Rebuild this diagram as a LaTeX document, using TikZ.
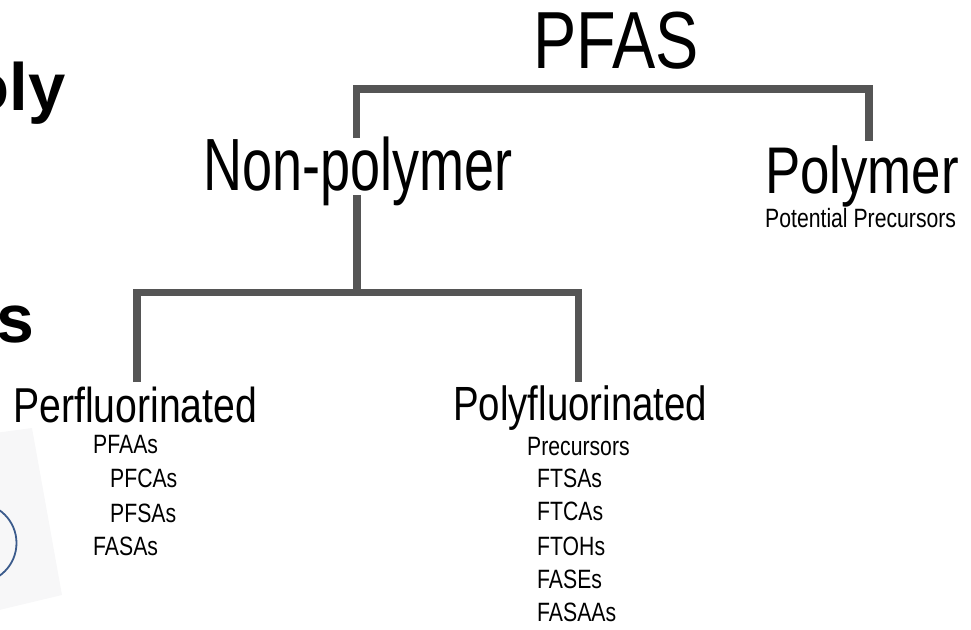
\documentclass[tikz,border=0pt]{standalone}
\usepackage{fontspec}
\setmainfont{Liberation Sans}
\newfontfamily\nar[FakeStretch=0.8]{Liberation Sans}
\newfontfamily\narr[FakeStretch=0.73]{Liberation Sans}
\definecolor{barc}{HTML}{555555}
\definecolor{cardc}{HTML}{F7F7F8}
\definecolor{ringc}{HTML}{3B5B8C}
\begin{document}
\begin{tikzpicture}[x=1pt,y=-1pt,
  lbl/.style={inner sep=0pt,anchor=base west,text=black},
  big/.style={lbl,font=\nar\fontsize{#1}{#1}\selectfont},
  bigN/.style={lbl,font=\narr\fontsize{#1}{#1}\selectfont},
  bar/.style={draw=barc,line width=7.5pt,line cap=butt,line join=miter}]
\useasboundingbox (0,0) rectangle (971,629);
\clip (0,0) rectangle (971,629);
% slide fragment on the left
\fill[cardc] (-5,433) -- (32,428) -- (62,595) -- (-5,611) -- cycle;
\draw[ringc,line width=1.8pt] (-23.5,543) circle[radius=40pt];
\node[inner sep=0pt,anchor=base east,font=\bfseries\fontsize{67}{67}\selectfont] (t1) at (66,110) {oly};
\node[inner sep=0pt,anchor=base east,font=\bfseries\fontsize{68}{68}\selectfont] (t2) at (35,342) {s};
% tree labels
\node[big=81] (pfas) at (533,68) {PFAS};
\node[bigN=74] (np) at (203,190) {Non-polymer};
\node[big=66] (poly) at (765,193) {Polymer};
\node[big=26.5] (pp) at (765,227) {Potential Precursors};
\node[big=49] (perf) at (13,422) {Perfluorinated};
\node[big=48] (polf) at (453,420) {Polyfluorinated};
\node[big=26.5] (a1) at (93,453) {PFAAs};
\node[big=26.5] (a2) at (110,487) {PFCAs};
\node[big=26.5] (a3) at (110,522) {PFSAs};
\node[big=26.5] (a4) at (93,555) {FASAs};
\node[big=26.5] (b0) at (527,455) {Precursors};
\node[big=26.5] (b1) at (537,487) {FTSAs};
\node[big=26.5] (b2) at (537,520) {FTCAs};
\node[big=26.5] (b3) at (537,555) {FTOHs};
\node[big=26.5] (b4) at (537,588) {FASEs};
\node[big=26.5] (b5) at (537,621) {FASAAs};
% connectors
\coordinate (j1l) at (356.5,138);
\coordinate (j1r) at (869,141);
\coordinate (j1y) at (0,89);
\draw[bar] (j1l) -- (j1l |- j1y) -- (j1r |- j1y) -- (j1r);
\coordinate (s1) at (357,195);
\coordinate (j2y) at (0,292.5);
\coordinate (j2l) at (137,382);
\coordinate (j2r) at (578.5,382);
\draw[bar] (s1) -- (s1 |- j2y);
\draw[bar] (j2l) -- (j2l |- j2y) -- (j2r |- j2y) -- (j2r);
\end{tikzpicture}
\end{document}
